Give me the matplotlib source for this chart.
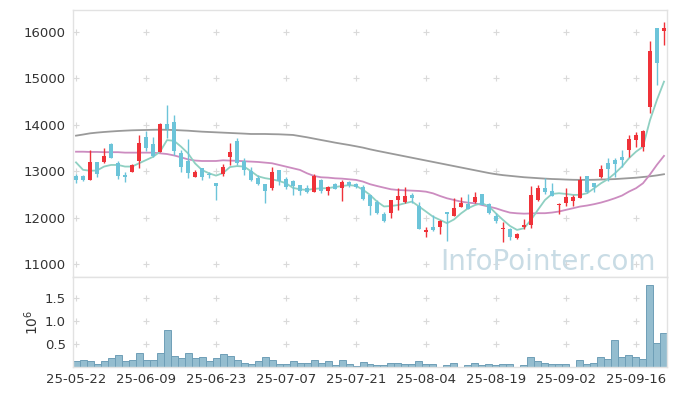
import numpy as np
import pandas as pd
import matplotlib
matplotlib.use("Agg")
import matplotlib.pyplot as plt

# trading days (KRX holidays skipped)
holidays = ["2025-06-03", "2025-06-06", "2025-08-15"]
days = pd.bdate_range("2025-05-22", "2025-09-22", freq="C", holidays=holidays)
labels = [d.strftime("%y-%m-%d") for d in days]

opens = [12900, 12900, 12820, 13200, 13200, 13590, 13170, 12920, 12990, 13220,
         13730, 13590, 13420, 14020, 14060, 13400, 13210, 12880, 13060, 12940,
         12740, 12950, 13310, 13650, 13210, 13010, 12850, 12720, 12630, 13030,
         12830, 12790, 12700, 12630, 12560, 12810, 12580, 12720, 12630, 12770,
         12720, 12670, 12490, 12330, 12070, 12090, 12380, 12340, 12490, 12250,
         11680, 11790, 11800, 12130, 12030, 12220, 12290, 12340, 12510, 12290,
         12030, 11750, 11750, 11550, 11790, 11830, 12380, 12630, 12580, 12270,
         12320, 12350, 12430, 12900, 12740, 12880, 13170, 13240, 13310, 13460,
         13670, 13520, 14380, 16090, 16020]
highs = [12950, 12910, 13450, 13200, 13490, 13600, 13210, 12990, 13150, 13770,
         13870, 13730, 14030, 14420, 14220, 13460, 13690, 13030, 13060, 12980,
         12740, 13150, 13600, 13710, 13280, 13100, 12920, 12720, 13080, 13030,
         12880, 12810, 12700, 12700, 12950, 12830, 12680, 12750, 12810, 12790,
         12750, 12700, 12490, 12380, 12130, 12390, 12630, 12650, 12520, 12340,
         11800, 12060, 11950, 12130, 12420, 12450, 12510, 12560, 12510, 12310,
         12090, 11910, 11770, 11660, 11970, 12680, 12700, 12850, 12750, 12310,
         12630, 12490, 12900, 12900, 12740, 13140, 13290, 13290, 13460, 13780,
         13840, 13890, 15810, 16090, 16220]
lows = [12750, 12780, 12810, 12870, 13180, 13290, 12840, 12770, 12990, 13060,
        13440, 13300, 13420, 13710, 13350, 12990, 12850, 12880, 12800, 12850,
        12390, 12890, 13130, 13130, 12920, 12780, 12700, 12310, 12600, 12700,
        12610, 12490, 12490, 12520, 12560, 12540, 12490, 12620, 12360, 12670,
        12630, 12380, 12060, 12070, 11910, 11990, 12160, 12310, 12310, 11750,
        11590, 11720, 11640, 11500, 12030, 12220, 12190, 12310, 12270, 12080,
        11880, 11480, 11520, 11540, 11750, 11770, 12350, 12500, 12470, 12070,
        12240, 12240, 12420, 12540, 12560, 12850, 12780, 12880, 13100, 13310,
        13530, 13440, 14250, 14850, 15720]
closes = [12800, 12800, 13200, 12950, 13330, 13290, 12900, 12880, 13130, 13600,
          13490, 13330, 14020, 13900, 13440, 13100, 12970, 12990, 12880, 12910,
          12680, 13090, 13410, 13170, 13030, 12810, 12730, 12580, 12980, 12780,
          12670, 12690, 12580, 12560, 12900, 12580, 12670, 12620, 12770, 12700,
          12650, 12400, 12240, 12090, 11930, 12380, 12470, 12470, 12430, 11750,
          11730, 11730, 11930, 12070, 12200, 12310, 12190, 12440, 12270, 12090,
          11930, 11770, 11590, 11640, 11840, 12490, 12630, 12560, 12470, 12300,
          12450, 12450, 12810, 12560, 12670, 13040, 13050, 13160, 13240, 13700,
          13780, 13870, 15590, 15340, 16080]

ma5 = [13190, 13030, 13010, 13015, 13100, 13135, 13135, 13100, 13100, 13170,
       13240, 13310, 13420, 13670, 13655, 13530, 13385, 13170, 13025, 12955,
       12905, 12960, 13090, 13110, 13100, 13000, 12890, 12850, 12825, 12790,
       12740, 12640, 12610, 12595, 12620, 12630, 12635, 12660, 12680, 12700,
       12685, 12600, 12490, 12345, 12240, 12250, 12270, 12310, 12345, 12240,
       12130, 12020, 11950, 11880, 11960, 12090, 12200, 12270, 12310, 12240,
       12090, 11950, 11820, 11735, 11770, 11950, 12170, 12380, 12510, 12525,
       12510, 12490, 12490, 12525, 12630, 12740, 12830, 12955, 13100, 13280,
       13420, 13530, 14100, 14540, 14930]
ma20 = [13420, 13420, 13415, 13415, 13410, 13410, 13410, 13400, 13400, 13400,
        13400, 13400, 13385, 13370, 13340, 13300, 13255, 13230, 13220, 13220,
        13220, 13235, 13228, 13225, 13214, 13207, 13199, 13185, 13171, 13135,
        13099, 13063, 13027, 12955, 12898, 12869, 12862, 12847, 12840, 12826,
        12812, 12776, 12720, 12681, 12645, 12610, 12595, 12588, 12581, 12574,
        12559, 12523, 12466, 12416, 12380, 12344, 12322, 12308, 12272, 12236,
        12200, 12150, 12107, 12093, 12085, 12090, 12095, 12095, 12109, 12131,
        12167, 12202, 12238, 12260, 12289, 12324, 12368, 12418, 12475, 12561,
        12633, 12740, 12930, 13140, 13330]
ma60 = [13766, 13790, 13816, 13832, 13845, 13856, 13866, 13874, 13881, 13885,
        13888, 13892, 13895, 13892, 13888, 13880, 13873, 13862, 13852, 13845,
        13838, 13831, 13824, 13817, 13810, 13802, 13802, 13802, 13798, 13795,
        13788, 13781, 13756, 13731, 13702, 13673, 13645, 13616, 13590, 13565,
        13537, 13508, 13472, 13440, 13410, 13380, 13350, 13320, 13290, 13260,
        13230, 13200, 13170, 13140, 13110, 13080, 13050, 13020, 12990, 12960,
        12935, 12915, 12900, 12885, 12870, 12860, 12850, 12840, 12832, 12827,
        12820, 12815, 12813, 12813, 12815, 12820, 12825, 12830, 12840, 12850,
        12860, 12875, 12890, 12910, 12935]

volume = [0.14, 0.16, 0.14, 0.07, 0.14, 0.20, 0.26, 0.14, 0.16, 0.31,
          0.16, 0.16, 0.31, 0.81, 0.24, 0.20, 0.31, 0.20, 0.22, 0.14,
          0.20, 0.28, 0.24, 0.16, 0.09, 0.07, 0.14, 0.22, 0.16, 0.07,
          0.07, 0.12, 0.09, 0.09, 0.16, 0.09, 0.12, 0.04, 0.16, 0.07,
          0.03, 0.11, 0.07, 0.04, 0.04, 0.09, 0.09, 0.07, 0.07, 0.14,
          0.07, 0.07, 0.01, 0.04, 0.09, 0.01, 0.04, 0.09, 0.04, 0.07,
          0.04, 0.07, 0.07, 0.01, 0.04, 0.22, 0.12, 0.09, 0.07, 0.07,
          0.07, 0.01, 0.16, 0.07, 0.09, 0.22, 0.18, 0.58, 0.22, 0.26,
          0.22, 0.18, 1.78, 0.53, 0.74]

price_ticks = [11000, 12000, 13000, 14000, 15000, 16000]
vol_ticks = [0.5, 1.0, 1.5]

o = np.array(opens)
h = np.array(highs)
l = np.array(lows)
c = np.array(closes)
x = np.arange(len(o))

red = "#ef3239"
blue = "#6cc4d9"
up = c >= o
cols = np.where(up, red, blue)
grid_c = "#d9d9d9"
spine_c = "#e2e2e2"
txt_c = "#333333"

fig = plt.figure(figsize=(6.77, 3.96), dpi=100)
ax = fig.add_axes([73 / 677, 1 - 277 / 396, 594 / 677, 267 / 396])
axv = fig.add_axes([73 / 677, 1 - 367 / 396, 594 / 677, 90 / 396], sharex=ax)

xticks = x[::10]
# "+" grid markers
for xt in xticks:
    ax.plot([xt] * len(price_ticks), price_ticks, ls="none", marker="+",
            ms=5, mew=0.8, color=grid_c, zorder=0)
    axv.plot([xt] * len(vol_ticks), vol_ticks, ls="none", marker="+",
             ms=5, mew=0.8, color=grid_c, zorder=0)

ax.text(0.618, 0.028, "InfoPointer.com", transform=ax.transAxes,
        fontsize=20, color="#c9dce5", ha="left", va="baseline", zorder=0)

ax.plot(x, ma60, color="#9a9a9a", lw=1.3, zorder=2)
ax.plot(x, ma20, color="#cc8cc0", lw=1.3, zorder=2)
ax.plot(x, ma5, color="#8fd0c2", lw=1.3, zorder=2)

ax.vlines(x, l, h, colors=cols, lw=1.0, zorder=3)
body_lo = np.minimum(o, c)
body_h = np.maximum(np.abs(c - o), 15)
ax.bar(x, body_h, bottom=body_lo, width=0.68, color=cols, lw=0, zorder=4)

axv.bar(x, volume, width=1.0, color="#94bdcf", edgecolor="#6f9fb7", lw=0.7)

ax.set_xlim(-0.43, 84.43)
ax.set_ylim(10720, 16474)
axv.set_ylim(0, 1.957)

ax.set_yticks(price_ticks)
ax.set_yticklabels([str(t) for t in price_ticks])
axv.set_yticks(vol_ticks)
axv.set_yticklabels(["0.5", "1.0", "1.5"])
axv.set_xticks(xticks)
axv.set_xticklabels([labels[i] for i in xticks])
ax.tick_params(axis="x", bottom=False, labelbottom=False)
for a in (ax, axv):
    a.tick_params(axis="both", length=0, labelsize=9.5, colors=txt_c, pad=5)
    for s in a.spines.values():
        s.set_color(spine_c)
        s.set_linewidth(1.0)
axv.tick_params(axis="x", pad=4)

fig.text(32 / 677, 1 - 322 / 396, r"$10^6$", rotation=90, fontsize=10,
         color=txt_c, ha="center", va="center")

fig.savefig("out.png", dpi=100)
